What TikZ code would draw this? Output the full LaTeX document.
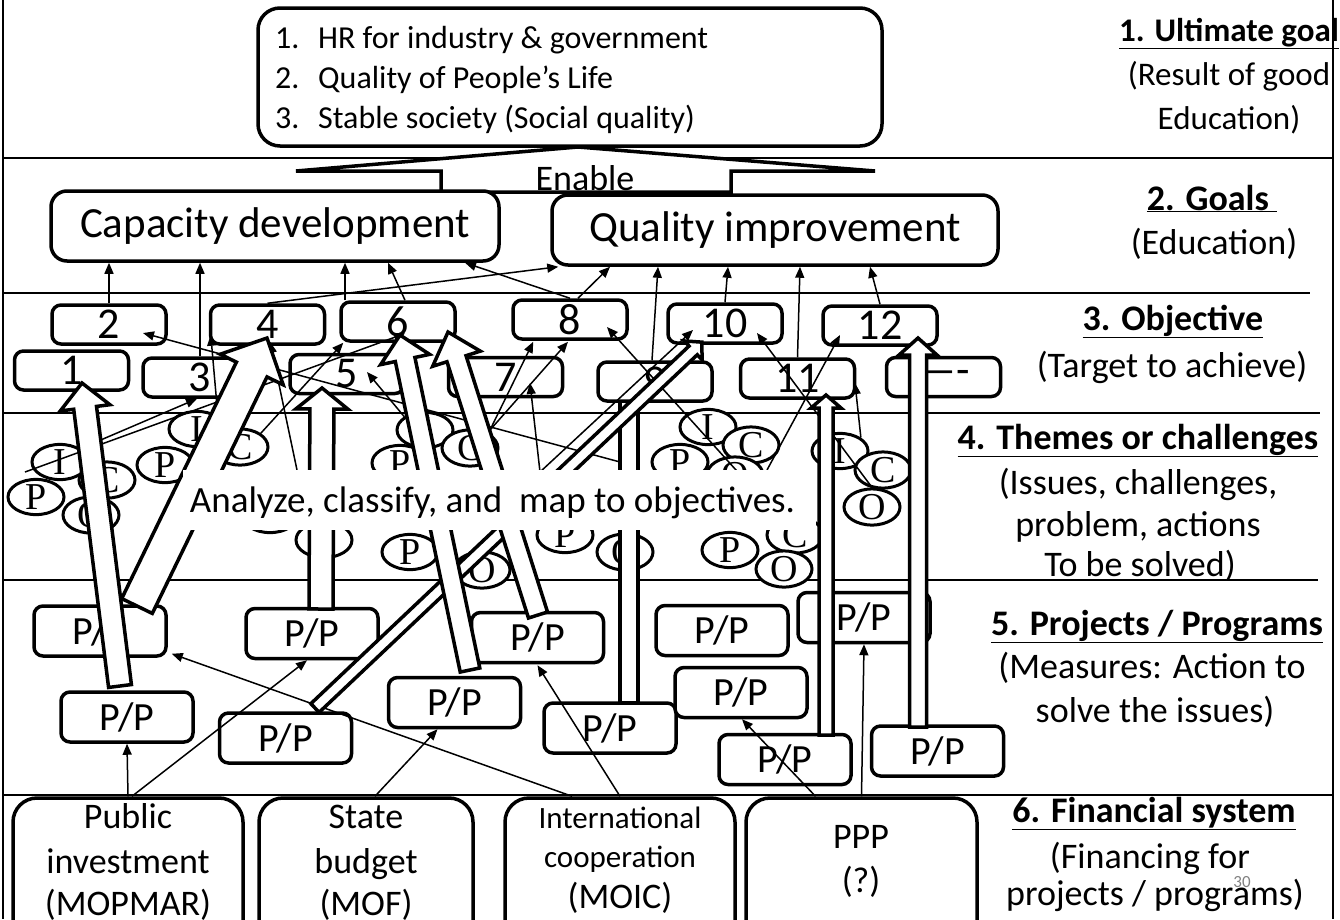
\documentclass[tikz,border=0pt]{standalone}
\usepackage{fontspec}
\setmainfont{Carlito}
\newfontfamily\serifL{Liberation Serif}
\usetikzlibrary{arrows.meta,shapes.geometric,calc}
\newcommand\fsz[1]{\fontsize{#1}{#1}\selectfont}
\newcommand\barrow[7]{%
 \pgfmathsetmacro\bdx{#3-#1}%
 \pgfmathsetmacro\bdy{#4-#2}%
 \pgfmathsetmacro\bny{-(\bdy)}%
 \pgfmathsetmacro\blen{veclen(\bdx,\bdy)}%
 \pgfmathsetmacro\bang{atan2(\bny,\bdx)}%
 \pgfmathsetmacro\bneck{\blen-#7}%
 \begin{scope}[shift={(#1,#2)},rotate=\bang]
 \draw[blk] (0,#5) -- (\bneck,#5) -- (\bneck,#6) -- (\blen,0) -- (\bneck,-#6) -- (\bneck,-#5) -- (0,-#5) -- cycle;
 \end{scope}}
\tikzset{
 secline/.style={line width=1.6pt},
 box/.style={draw,line width=3.5pt,rounded corners=9pt,fill=white,inner sep=0pt},
 obox/.style={box,minimum width=114pt,minimum height=39pt,font=\fsz{44}},
 ppbox/.style={box,minimum width=132pt,minimum height=50pt,font=\fsz{40}},
 finbox/.style={box,rounded corners=24pt,minimum height=160pt},
 gbox/.style={box,rounded corners=16pt,minimum height=70pt,font=\fsz{43}},
 ell/.style={draw,ellipse,line width=3pt,fill=white,minimum width=56pt,minimum height=30pt,inner sep=0pt,font=\serifL\fsz{38}},
 conn/.style={line width=1.5pt,-{Triangle[length=11pt,width=9pt]}},
 blk/.style={draw,line width=3.5pt,fill=white,line join=miter,miter limit=20},
 lab/.style={anchor=base,font=\fsz{36},inner sep=0pt},
 txt/.style={anchor=base west,font=\fsz{32},inner sep=0pt},
 ftxt/.style={anchor=base,font=\fsz{36},inner sep=0pt},
}
\begin{document}
\begin{tikzpicture}[x=1pt,y=-1pt]
\useasboundingbox (0,0) rectangle (1340,919);
\begin{scope}
\clip (0,0) rectangle (1340,919);
% section lines and frame
\draw[secline] (3,158) -- (1333,158);
\draw[secline] (3,293) -- (1310,293);
\draw[secline] (3,413) -- (1320,413);
\draw[secline] (3,580) -- (1318,580);
\draw[secline] (3,795) -- (1333,795);
\draw[secline] (3,0) -- (3,919);
\draw[secline] (1333,0) -- (1333,919);

% ultimate goal box
\node[box,rounded corners=22pt,minimum width=624pt,minimum height=138pt] (ult) at (570,77) {};
\node[txt] (u1n) at (275,48) {1.};
\node[txt] (u1) at (318,48) {HR for industry \& government};
\node[txt] (u2n) at (275,88) {2.};
\node[txt] (u2) at (318,88) {Quality of People’s Life};
\node[txt] (u3n) at (275,128) {3.};
\node[txt] (u3) at (318,128) {Stable society (Social quality)};

% enable arrow
\draw[blk] (578,147) -- (875,171) -- (731,171) -- (731,192) -- (441,192) -- (441,171) -- (296,171) -- cycle;
\node[anchor=base,font=\fsz{36},inner sep=0pt] (en) at (585,190) {Enable};

% goals
\node[gbox,minimum width=448pt] (cap) at (275,226) {Capacity development};
\node[gbox,minimum width=446pt] (qual) at (775,230) {Quality improvement};

% theme ellipses
\node[ell] (el5) at (197,429) {I};
\node[ell] (el10) at (425,430) {I};
\node[ell] (el17) at (708,427) {I};
\node[ell] (el19) at (751,445) {C};
\node[ell] (el7) at (240,447) {C};
\node[ell] (el12) at (470,448) {C};
\node[ell] (el24) at (840,451) {I};
\node[ell] (el1) at (60,462) {I};
\node[ell] (el6) at (165,465) {P};
\node[ell] (el11) at (400,463) {P};
\node[ell] (el18) at (680,462) {P};
\node[ell] (el26) at (883,470) {C};
\node[ell] (el20) at (735,475) {O};
\node[ell] (el3) at (107,480) {C};
\node[ell] (el2) at (36,497) {P};
\node[ell] (el25) at (872,507) {O};
\node[ell] (el4) at (91,515) {O};
\node[ell] (el8) at (270,515) {I};
\node[ell] (el15) at (565,535) {P};
\node[ell] (el21) at (795,535) {C};
\node[ell] (el9) at (324,540) {P};
\node[ell] (el22) at (730,550) {P};
\node[ell] (el13) at (410,552) {P};
\node[ell] (el16) at (625,552) {O};
\node[ell] (el23) at (784,569) {O};
\node[ell] (el14) at (482,570) {O};

% shaft under box 9
\draw[blk] (620,703) rectangle (638,400);

% objectives
\node[obox] (o2) at (109,324.5) {2};
\node[obox] (o4) at (267.5,324.5) {4};
\node[obox] (o6) at (398,321.5) {6};
\node[obox] (o8) at (570,319.5) {8};
\node[obox] (o10) at (725,323.5) {10};
\node[obox] (o12) at (880,325.5) {12};
\node[obox] (o1) at (71.5,370.5) {1};
\node[obox] (o3) at (200,377.5) {3};
\node[obox] (o5) at (347,374) {5};
\node[obox] (o7) at (505.5,377) {7};
\node[obox] (o9) at (655,381.5) {9};
\node[obox] (o11) at (797.5,378.5) {11};
\node[obox] (o13) at (943.5,377) {----};

% objectives -> goals
\draw[conn] (o2.north) -- (o2.north |- cap.south);
\draw[conn] (o3.north) -- (o3.north |- cap.south);
\draw[conn] ($(o6.north)+(-53,0)$) -- ($(o6.north |- cap.south)+(-53,0)$);
\draw[conn] ($(o6.north)+(7,0)$) -- ($(cap.south)+(113,0)$);
\draw[conn] (o8.north) -- ($(cap.south)+(190,0)$);
\draw[conn] (o4.north) -- ($(qual.south west)+(8,0)$);
\draw[conn] ($(o8.north)+(8,0)$) -- ($(qual.south)+(-165,0)$);
\draw[conn] ($(o9.north)+(-3,0)$) -- ($(qual.south)+(-117,0)$);
\draw[conn] (o10.north) -- ($(qual.south)+(-47,0)$);
\draw[conn] (o11.north) -- ($(qual.south)+(25,0)$);
\draw[conn] (o12.north) -- ($(qual.south)+(95,0)$);

% themes -> objectives
\coordinate (c1) at (620,462);
\coordinate (c3) at (25,472);
\coordinate (c5) at (297,470);
\coordinate (c8) at (490,430);
\coordinate (c10) at (540,472);
\coordinate (c11) at (745,480);
\coordinate (c13) at (767,470);
\draw[conn] (c1) -- ($(o2.center)+(34,8.5)$);
\draw[conn] (el1.north east) -- ($(o3.south)+(-3,0)$);
\draw[conn] (c3) -- ($(o6.center)+(7,12)$);
\draw[conn] (el5.north east) -- ($(o4.south west)+(2,-11)$);
\draw[conn] (c5) -- ($(o4.south)+(2.5,-4)$);
\draw[conn] (el7.north east) -- ($(o6.south west)+(4,0)$);
\draw[conn] (el10.north west) -- ($(o5.center)+(20,-2)$);
\draw[conn] (c8) -- ($(o8.south west)+(22,1)$);
\draw[conn] (c8) -- ($(o8.south)+(-2,1)$);
\draw[conn] (c10) -- ($(o7.center)+(24.5,6)$);
\draw[conn] (c11) -- ($(o8.center)+(37,7.5)$);
\draw[conn] (el25.north) -- ($(o10.center)+(32,9.5)$);
\draw[conn] (c13) -- ($(o12.center)+(-40,9.5)$);
\draw[conn] (el24.north east) -- ($(o11.center)+(57.5,4.5)$);
\draw[conn] (c10) -- ($(o10.center)+(-32,6.5)$);

% projects / programs
\node[ppbox] (ppa) at (100,631) {P/P};
\node[ppbox] (ppb) at (127,717) {P/P};
\node[ppbox] (ppc) at (312,633.5) {P/P};
\node[ppbox] (ppd) at (285.5,738) {P/P};
\node[ppbox] (ppe) at (454.5,702.5) {P/P};
\node[ppbox] (ppf) at (537.5,637.5) {P/P};
\node[ppbox] (ppg) at (610,728) {P/P};
\node[ppbox] (pph) at (722,630.5) {P/P};
\node[ppbox] (ppi) at (741,692.5) {P/P};
\node[ppbox] (ppj) at (785,759.5) {P/P};
\node[ppbox] (ppk) at (864,617.5) {P/P};
\node[ppbox] (ppl) at (937.5,751) {P/P};

% financial system
\node[finbox,minimum width=230pt] (pub) at (128,878) {};
\node[finbox,minimum width=214pt] (sb) at (366,878) {};
\node[finbox,minimum width=230pt] (ic) at (620,878) {};
\node[finbox,minimum width=231pt] (ppp) at (861.5,878) {};
\node[ftxt] (pub1) at (128,828) {Public};
\node[ftxt] (pub2) at (128,873) {investment};
\node[ftxt] (pub3) at (128,915) {(MOPMAR)};
\node[ftxt] (sb1) at (366,828) {State};
\node[ftxt] (sb2) at (366,873) {budget};
\node[ftxt] (sb3) at (366,915) {(MOF)};
\node[ftxt,font=\fsz{31}] (ic1) at (620,828) {International};
\node[ftxt,font=\fsz{31}] (ic2) at (620,867) {cooperation};
\node[ftxt] (ic3) at (620,908) {(MOIC)};
\node[ftxt] (ppp1) at (861,848) {PPP};
\node[ftxt] (ppp2) at (861,892) {(?)};

% financing -> projects
\draw[conn] (pub.north) -- (ppb.south);
\draw[conn] ($(pub.north)+(4,0)$) -- ($(ppc.south)+(-5,0)$);
\draw[conn] ($(sb.north)+(9,0)$) -- ($(ppe.south)+(-17,0)$);
\draw[conn] ($(ic.north)+(-48,0)$) -- ($(ppa.south east)+(4,-4)$);
\draw[conn] (ic.north) -- ($(ppf.south)+(0,1)$);
\draw[conn] ($(ppp.north)+(-46,0)$) -- ($(ppi.south)+(1,0)$);
\draw[conn] (ppp.north) -- (ppk.south);

% block arrows projects -> objectives
\barrow{315}{708}{702}{342}{6}{13}{12}
\barrow{137}{606}{267}{338}{17}{35}{35}
\barrow{120}{686}{82}{383}{11.5}{25}{25}
\barrow{321}{609}{322}{388}{12}{26}{21}
\barrow{470}{670}{400}{335}{10}{25}{25}
\barrow{538}{615}{448}{332}{10}{25}{28}
\barrow{826}{735}{826}{395}{7}{15}{13}
\barrow{918}{727}{918}{338}{8.5}{19}{17}

% analyze label
\node[fill=white,minimum width=633pt,minimum height=60pt,inner sep=0pt] (anbox) at (499.5,500) {};
\node[anchor=base,font=\fsz{37},inner sep=0pt] (an) at (492.5,512) {Analyze, classify, and\ \ map to objectives.};

% right labels
\node[lab,font=\fsz{33}] (r1a) at (1229,41) {\textbf{\underline{1. Ultimate goal}}};
\node[lab,font=\fsz{33}] (r1b) at (1229,85) {(Result of good};
\node[lab,font=\fsz{33}] (r1c) at (1229,129) {Education)};
\node[lab] (r2a) at (1212,210) {\textbf{\underline{2. Goals\ }}};
\node[lab] (r2b) at (1214,254) {(Education)};
\node[lab] (r3a) at (1173,330) {\textbf{\underline{3. Objective}}};
\node[lab] (r3b) at (1172,377) {(Target to achieve)};
\node[lab] (r4a) at (1138,449) {\textbf{\underline{4. Themes or challenges}}};
\node[lab] (r4b) at (1138,494) {(Issues, challenges,};
\node[lab] (r4c) at (1138,536) {problem, actions};
\node[lab] (r4d) at (1140,576) {To be solved)};
\node[lab] (r5a) at (1157,635) {\textbf{\underline{5. Projects / Programs}}};
\node[lab] (r5b) at (1152,678) {(Measures: Action to};
\node[lab] (r5c) at (1155,722) {solve the issues)};
\node[lab] (r6a) at (1154,822) {\textbf{\underline{6. Financial system}}};
\node[lab] (r6b) at (1150,868) {(Financing for};
\node[lab] (r6c) at (1155,905) {projects / programs)};
\node[anchor=center,text=gray,font=\fsz{17},inner sep=0pt] (pg) at (1242,882) {30};
\end{scope}
\end{tikzpicture}
\end{document}
